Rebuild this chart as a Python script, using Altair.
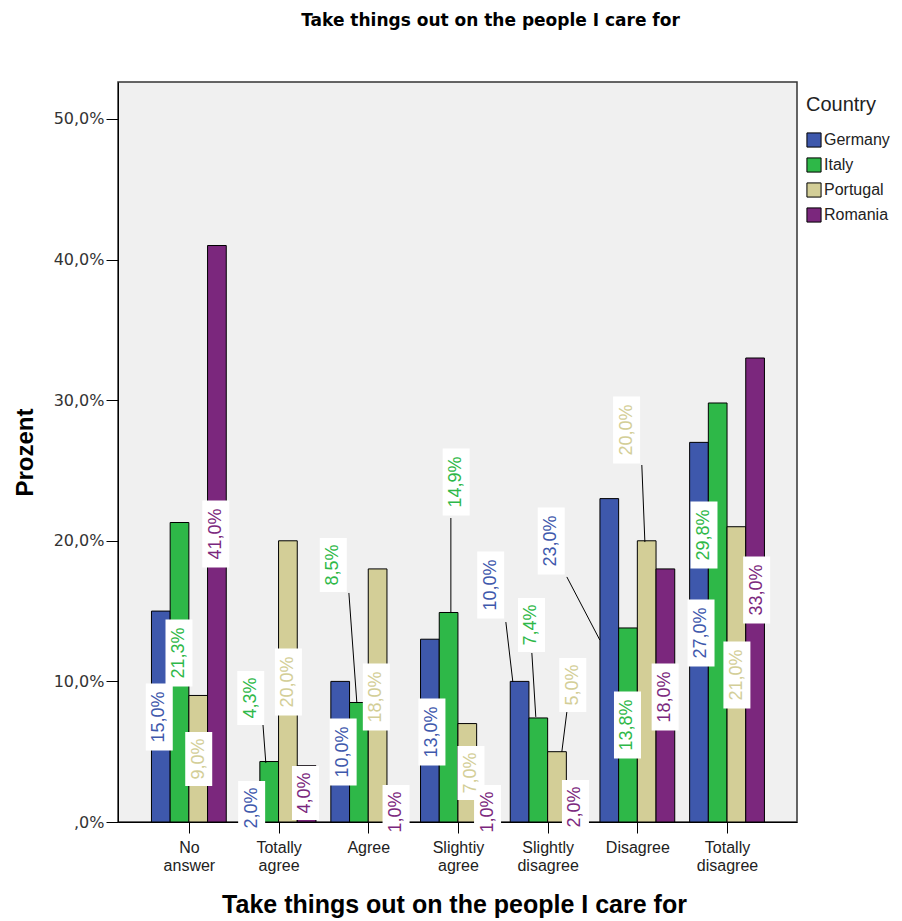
import json
import altair as alt
import pandas as pd

# ---- data ----
categories = ["No answer", "Totally agree", "Agree", "Slightiy agree",
              "Slightly disagree", "Disagree", "Totally disagree"]
countries = ["Germany", "Italy", "Portugal", "Romania"]
germany = [15.0, 2.0, 10.0, 13.0, 10.0, 23.0, 27.0]
italy = [21.3, 4.3, 8.5, 14.9, 7.4, 13.8, 29.8]
portugal = [9.0, 20.0, 18.0, 7.0, 5.0, 20.0, 21.0]
romania = [41.0, 4.0, 1.0, 1.0, 2.0, 18.0, 33.0]
series = [germany, italy, portugal, romania]

# ---- label layout (data units: category units / percent) ----
label_dx = [
    [-0.33, -0.30, -0.28, -0.29, -0.635, -0.96, -0.29],
    [-0.11, -0.31, -0.39, -0.02, -0.18, -0.11, -0.257],
    [0.11, 0.11, 0.09, 0.145, 0.28, -0.12, 0.11],
    [0.30, 0.30, 0.31, 0.33, 0.31, 0.31, 0.33],
]
label_y = [
    [7.47, 1.0, 4.98, 6.40, 16.86, 19.99, 13.44],
    [12.02, 8.82, 18.28, 24.18, 14.01, 6.90, 20.41],
    [4.48, 9.96, 8.89, 3.49, 9.74, 27.88, 10.46],
    [20.48, 2.06, 0.71, 0.71, 1.07, 8.89, 16.50],
]
leaders = [
    (0.825, 7.04, 0.858, 4.2), (1.784, 16.29, 1.873, 8.46),
    (2.921, 21.62, 2.921, 14.86), (3.534, 14.22, 3.612, 9.96),
    (3.824, 12.02, 3.868, 7.47), (4.214, 7.82, 4.158, 4.98),
    (4.214, 17.43, 4.582, 12.94), (5.05, 25.39, 5.084, 19.91),
]

colors = ["#3E58AC", "#2EB848", "#D3CE97", "#7B277D"]
BW = 0.2085          # bar width in category units
PX_X = 89.7          # px per category unit
PX_Y = 14.06         # px per percent

bar_rows, lab_rows = [], []
for j, (c, vals) in enumerate(zip(countries, series)):
    for i, v in enumerate(vals):
        xc = i + (j - 1.5) * BW
        bar_rows.append(dict(country=c, cat=categories[i], v=v, base=0.0,
                             x0=xc - BW / 2, x1=xc + BW / 2))
        txt = f"{v:.1f}".replace(".", ",") + "%"
        lx = i + label_dx[j][i]
        ly = label_y[j][i]
        hh = (len(txt) * 6.5 + 1) / PX_Y
        hw = 13.5 / PX_X
        lab_rows.append(dict(country=c, label=txt, lx=lx, ly=ly,
                             bx0=lx - hw, bx1=lx + hw, by0=ly - hh, by1=ly + hh))
bar_df = pd.DataFrame(bar_rows)
lab_df = pd.DataFrame(lab_rows)
lead_df = pd.DataFrame(leaders, columns=["ax", "ay", "bx", "by"])

x_scale = alt.Scale(domain=[-0.79, 6.78], nice=False, zero=False)
y_scale = alt.Scale(domain=[0, 52.63], nice=False, zero=False)
color_scale = alt.Scale(domain=countries, range=colors)

XT = "Take things out on the people I care for"
label_expr_x = "split(" + json.dumps(categories) + "[datum.value], ' ')"

x_axis = alt.Axis(values=list(range(len(categories))), labelExpr=label_expr_x,
                  tickSize=11, labelFont="Liberation Sans", labelFontSize=16,
                  labelColor="#222", labelLineHeight=18, labelPadding=6,
                  titleFont="Liberation Sans", titleFontSize=25, titleFontWeight="bold",
                  titleColor="black", titleX=336, titleY=82, titleBaseline="middle",
                  titleAlign="center", domainColor="black", tickColor="black")
y_axis = alt.Axis(values=[0, 10, 20, 30, 40, 50],
                  labelExpr="datum.value == 0 ? ',0%' : replace(format(datum.value, '.1f'), '.', ',') + '%'",
                  tickSize=12, labelFont="DejaVu Sans", labelFontSize=16, labelColor="#333",
                  labelPadding=2,
                  titleFont="Liberation Sans", titleFontSize=24, titleFontWeight="bold",
                  titleColor="black", titleX=-93, titleY=370, titleAngle=270,
                  titleBaseline="middle", titleAlign="center",
                  domainColor="black", tickColor="black")

bars = alt.Chart(bar_df).mark_bar(stroke="black", strokeWidth=1).encode(
    x=alt.X("x0:Q", scale=x_scale, axis=x_axis, title=XT),
    x2="x1:Q",
    y=alt.Y("v:Q", scale=y_scale, axis=y_axis, title="Prozent"),
    y2="base:Q",
    color=alt.Color("country:N", scale=color_scale,
                    legend=alt.Legend(title="Country", orient="none", legendX=688,
                                      legendY=13, titleFont="Liberation Sans",
                                      titleFontSize=20, titleFontWeight="normal",
                                      titleColor="#222", titlePadding=17,
                                      labelFont="Liberation Sans", labelFontSize=16,
                                      labelColor="#222", symbolType="square",
                                      symbolSize=200, symbolStrokeColor="black",
                                      symbolStrokeWidth=1, symbolOpacity=1,
                                      rowPadding=5, labelOffset=2)),
)

rules = alt.Chart(lead_df).mark_rule(color="black", strokeWidth=1).encode(
    x=alt.X("ax:Q", scale=x_scale, title=XT),
    y=alt.Y("ay:Q", scale=y_scale, title="Prozent"),
    x2="bx:Q", y2="by:Q",
)

boxes = alt.Chart(lab_df).mark_rect(fill="white", opacity=1).encode(
    x=alt.X("bx0:Q", scale=x_scale, title=XT),
    x2="bx1:Q",
    y=alt.Y("by0:Q", scale=y_scale, title="Prozent"),
    y2="by1:Q",
)

texts = alt.Chart(lab_df).mark_text(angle=270, font="Liberation Sans", fontSize=18,
                                    align="center", baseline="middle").encode(
    x=alt.X("lx:Q", scale=x_scale, title=XT),
    y=alt.Y("ly:Q", scale=y_scale, title="Prozent"),
    text="label:N",
    color=alt.Color("country:N", scale=color_scale, legend=None),
)

chart = alt.layer(bars, rules, boxes, texts).properties(
    width=679, height=740,
    autosize=alt.AutoSizeParams(type="none"),
    padding={"left": 110, "top": 74, "right": 96, "bottom": 96},
    title=alt.TitleParams(XT, font="DejaVu Sans", fontSize=17, fontWeight="bold",
                          color="black", anchor="middle", dx=33, offset=39,
                          baseline="alphabetic"),
).configure_view(fill="#F0F0F0", stroke="#333", strokeWidth=1.5
).configure_axis(grid=False)

chart.save("out.html", embed_options={"renderer": "svg", "actions": False})
